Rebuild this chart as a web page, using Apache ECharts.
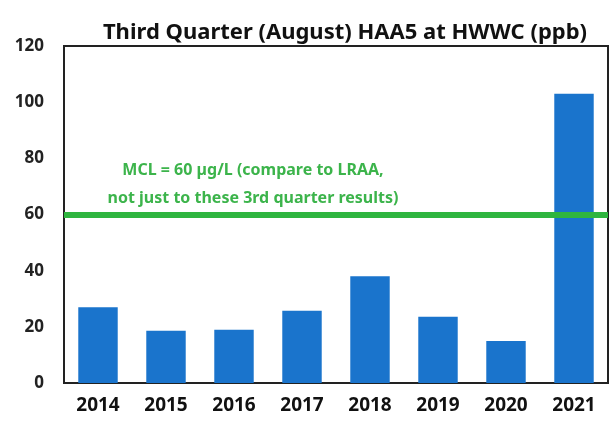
<!DOCTYPE html>
<html>
<head>
<meta charset="utf-8">
<script src="https://cdn.jsdelivr.net/npm/echarts@6/dist/echarts.min.js"></script>
<style>
  html, body { margin: 0; padding: 0; background: #fff; }
  #chart { width: 610px; height: 421px; }
</style>
</head>
<body>
<div id="chart"></div>
<script>
// 年份（类目轴）
const years = ['2014', '2015', '2016', '2017', '2018', '2019', '2020', '2021'];
// HAA5 值 (ppb)
const haa5 = [27, 18.6, 19, 25.7, 38, 23.6, 15, 103];
// MCL 标准线
const mcl = 60;
const mclText = ['MCL = 60 µg/L (compare to LRAA,', 'not just to these 3rd quarter results)'];

const chart = echarts.init(document.getElementById('chart'));

const option = {
  animation: false,
  backgroundColor: '#fff',
  title: [
    {
      text: 'Third Quarter (August) HAA5 at HWWC (ppb)',
      left: 340,
      top: 17,
      textAlign: 'center',
      textStyle: { fontFamily: 'Noto Sans', fontWeight: 'bold', fontSize: 22, color: '#111' }
    },
    {
      text: mclText.join('\n'),
      left: 248,
      top: 151,
      textAlign: 'center',
      textStyle: { fontFamily: 'Noto Sans', fontWeight: 'bold', fontSize: 16, color: '#3cb44b', lineHeight: 28 }
    }
  ],
  grid: {
    left: 64,
    right: 2,
    top: 46,
    bottom: 38,
    show: true,
    borderColor: '#222',
    borderWidth: 2
  },
  xAxis: {
    type: 'category',
    data: years,
    axisLine: { lineStyle: { color: '#222', width: 2 } },
    axisTick: { show: false },
    axisLabel: { fontFamily: 'Noto Sans', fontWeight: 'bold', fontSize: 19, color: '#111', margin: 13 }
  },
  yAxis: {
    type: 'value',
    min: 0,
    max: 120,
    interval: 20,
    axisLine: { show: false },
    axisTick: { show: false },
    splitLine: { show: false },
    axisLabel: { fontFamily: 'Noto Sans', fontWeight: 'bold', fontSize: 17, color: '#222', margin: 20 }
  },
  series: [
    {
      type: 'bar',
      data: haa5,
      barWidth: '58%',
      itemStyle: { color: '#1a74cc' },
      markLine: {
        symbol: 'none',
        silent: true,
        label: { show: false },
        lineStyle: { color: '#2fb53f', width: 6, type: 'solid' },
        data: [{ yAxis: mcl }]
      }
    }
  ]
};

chart.setOption(option);
</script>
</body>
</html>
